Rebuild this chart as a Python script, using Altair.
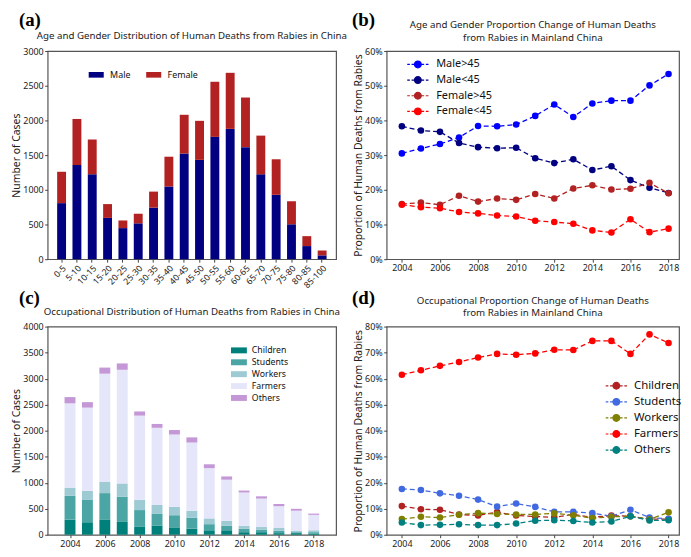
import altair as alt
import pandas as pd

FONT = "Noto Sans"
SERIF = "Liberation Serif"

# ---------------- Panel (a) data ----------------
age_groups = ["0-5", "5-10", "10-15", "15-20", "20-25", "25-30", "30-35", "35-40", "40-45",
              "45-50", "50-55", "55-60", "60-65", "65-70", "70-75", "75-80", "80-85", "85-100"]
male_counts = [808, 1357, 1223, 595, 448, 517, 743, 1048, 1523, 1431, 1763, 1878, 1615, 1223, 928, 503, 189, 55]
female_counts = [452, 664, 503, 199, 110, 138, 231, 429, 558, 563, 794, 808, 715, 558, 512, 332, 143, 70]

# ---------------- Panel (b) data ----------------
years = list(range(2004, 2019))
male_over45 = [30.5, 31.9, 33.2, 35.1, 38.4, 38.3, 38.8, 41.3, 44.6, 41.0, 44.9, 45.7, 45.7, 50.1, 53.4]
male_under45 = [38.3, 37.1, 36.7, 33.5, 32.3, 32.0, 32.1, 29.1, 27.7, 28.8, 25.7, 26.8, 22.8, 20.6, 19.1]
female_over45 = [15.9, 16.3, 15.7, 18.3, 16.6, 17.5, 17.1, 18.8, 17.5, 20.4, 21.3, 20.1, 20.3, 22.0, 19.0]
female_under45 = [15.7, 15.0, 14.7, 13.6, 13.2, 12.6, 12.3, 11.1, 10.7, 10.2, 8.3, 7.7, 11.5, 7.8, 8.8]

# ---------------- Panel (c) data ----------------
occ_children = [290, 240, 295, 246, 160, 178, 142, 117, 86, 86, 49, 49, 31, 31, 25]
occ_students = [460, 437, 505, 486, 314, 222, 233, 209, 117, 86, 68, 49, 49, 18, 24]
occ_workers = [155, 166, 215, 253, 197, 172, 160, 136, 111, 93, 55, 50, 49, 31, 37]
occ_farmers = [1620, 1600, 2080, 2185, 1618, 1483, 1391, 1310, 966, 793, 640, 547, 419, 382, 296]
occ_others = [120, 105, 117, 122, 80, 74, 86, 99, 74, 62, 37, 43, 43, 36, 24]

# ---------------- Panel (d) data ----------------
prop_children = [11.0, 9.8, 9.6, 7.8, 7.4, 8.7, 7.4, 7.0, 6.7, 7.8, 6.7, 7.4, 7.1, 6.0, 6.0]
prop_students = [17.6, 17.2, 15.9, 15.0, 13.5, 10.8, 12.0, 10.7, 8.8, 8.8, 8.3, 7.1, 9.6, 6.6, 6.1]
prop_workers = [6.0, 6.9, 6.6, 7.7, 8.3, 8.0, 7.8, 7.8, 8.2, 7.5, 6.4, 6.9, 7.1, 5.9, 8.6]
prop_farmers = [61.5, 63.2, 64.9, 66.4, 68.1, 69.5, 69.2, 69.7, 71.1, 71.0, 74.5, 74.5, 69.5, 77.0, 73.7]
prop_others = [4.7, 3.7, 3.8, 4.0, 3.7, 3.7, 4.3, 5.4, 5.6, 5.3, 4.7, 5.1, 7.1, 5.5, 5.6]

# ---------------- titles ----------------
title_a = "Age and Gender Distribution of Human Deaths from Rabies in China"
title_b = "Age and Gender Proportion Change of Human Deaths\nfrom Rabies in Mainland China"
title_c = "Occupational Distribution of Human Deaths from Rabies in China"
title_d = "Occupational Proportion Change of Human Deaths\nfrom Rabies in Mainland China"
ytitle_count = "Number of Cases"
ytitle_prop = "Proportion of Human Deaths from Rabies"

# ---------------- tables ----------------
rows = []
for i, g in enumerate(age_groups):
    rows.append({"Age": g, "Sex": "Male", "Cases": male_counts[i], "k": 0})
    rows.append({"Age": g, "Sex": "Female", "Cases": female_counts[i], "k": 1})
df_a = pd.DataFrame(rows)

b_names = ["Male>45", "Male<45", "Female>45", "Female<45"]
b_series = [male_over45, male_under45, female_over45, female_under45]
b_colors = ["#0000FF", "#000080", "#B22222", "#FF0000"]
df_b = pd.DataFrame([{"Year": y, "Group": n, "Pct": s[i]}
                     for n, s in zip(b_names, b_series) for i, y in enumerate(years)])

occ_names = ["Children", "Students", "Workers", "Farmers", "Others"]
c_series = [occ_children, occ_students, occ_workers, occ_farmers, occ_others]
c_colors = ["#00807a", "#4ba5a5", "#9ecad4", "#e6e6fa", "#c497d6"]
df_c = pd.DataFrame([{"Year": y, "Occupation": n, "Cases": s[i], "k": k}
                     for k, (n, s) in enumerate(zip(occ_names, c_series)) for i, y in enumerate(years)])

d_series = [prop_children, prop_students, prop_workers, prop_farmers, prop_others]
d_colors = ["#B22222", "#4169E1", "#808000", "#FF0000", "#008080"]
df_d = pd.DataFrame([{"Year": y, "Occ": n, "Pct": s[i]}
                     for n, s in zip(occ_names, d_series) for i, y in enumerate(years)])

W1, W2, H = 291, 295, 210
TITLE_SIZE = 9.8

rect_path = "M-1.6,-0.6L1.6,-0.6L1.6,0.6L-1.6,0.6Z"
line_pt_path = ("M-2.2,0L-1.65,0M-1.3,0L-0.75,0M0.75,0L1.3,0M1.65,0L2.2,0"
                "M-0.7,0A0.7,0.7 0 1,1 0.7,0A0.7,0.7 0 1,1 -0.7,0Z")


def panel_label(txt, dx, dy):
    return alt.Chart(pd.DataFrame({"t": [txt]})).mark_text(
        font=SERIF, fontSize=19, fontWeight="bold", align="left", baseline="alphabetic",
        color="#000"
    ).encode(text="t:N", x=alt.value(dx), y=alt.value(dy))


def panel_title(txt, w, dy):
    return alt.Chart(pd.DataFrame({"t": [txt]})).mark_text(
        font=FONT, fontSize=TITLE_SIZE, align="center", baseline="alphabetic",
        color="#222", lineBreak="\n", lineHeight=12.5
    ).encode(text="t:N", x=alt.value(w / 2), y=alt.value(dy))


# ---------------- Panel (a) ----------------
bars_a = alt.Chart(df_a).mark_bar().encode(
    x=alt.X("Age:N", sort=age_groups,
            scale=alt.Scale(paddingInner=0.42, paddingOuter=0.62),
            axis=alt.Axis(title=None, labelAngle=-45, labelFontSize=8.8)),
    y=alt.Y("Cases:Q", stack="zero", scale=alt.Scale(domain=[0, 3000], nice=False),
            axis=alt.Axis(title=ytitle_count, values=list(range(0, 3001, 500)), format="d")),
    color=alt.Color("Sex:N", scale=alt.Scale(domain=["Male", "Female"], range=["#000080", "#B22222"]),
                    legend=alt.Legend(title=None, orient="none", legendX=44, legendY=19,
                                      direction="horizontal", symbolType=rect_path, symbolSize=90,
                                      labelFontSize=9, columnPadding=15, labelOffset=9,
                                      symbolStrokeWidth=0)),
    order=alt.Order("k:Q", sort="ascending"),
)
chart_a = alt.layer(bars_a, panel_label("(a)", -29, -25), panel_title(title_a, W1, -12)).properties(
    width=W1, height=H)

# ---------------- Panel (b) ----------------
leg_b = alt.Legend(title=None, orient="none", legendX=26, legendY=8, symbolType=line_pt_path,
                   symbolSize=95, symbolStrokeWidth=1.2, labelFontSize=11, rowPadding=2.8,
                   labelOffset=13)
enc_b = dict(
    x=alt.X("Year:Q", scale=alt.Scale(domain=[2003.2, 2018.55], nice=False, zero=False),
            axis=alt.Axis(title=None, values=list(range(2004, 2019, 2)), format="d")),
    y=alt.Y("Pct:Q", scale=alt.Scale(domain=[0, 60], nice=False),
            axis=alt.Axis(title=ytitle_prop, values=list(range(0, 61, 10)),
                          labelExpr="datum.value + '%'")),
    color=alt.Color("Group:N", scale=alt.Scale(domain=b_names, range=b_colors), legend=leg_b),
)
lines_b = alt.Chart(df_b).mark_line(strokeDash=[5, 3], strokeWidth=1.3).encode(**enc_b)
pts_b = alt.Chart(df_b).mark_point(filled=True, size=44, opacity=1).encode(**enc_b)
chart_b = alt.layer(lines_b, pts_b, panel_label("(b)", -35, -25), panel_title(title_b, W2, -23)).properties(
    width=W2, height=H)

# ---------------- Panel (c) ----------------
bars_c = alt.Chart(df_c).mark_bar(size=11).encode(
    x=alt.X("Year:Q", scale=alt.Scale(domain=[2003, 2019], nice=False, zero=False),
            axis=alt.Axis(title=None, values=list(range(2004, 2019, 2)), format="d")),
    y=alt.Y("Cases:Q", stack="zero", scale=alt.Scale(domain=[0, 4000], nice=False),
            axis=alt.Axis(title=ytitle_count, values=list(range(0, 4001, 500)), format="d")),
    color=alt.Color("Occupation:N", scale=alt.Scale(domain=occ_names, range=c_colors),
                    legend=alt.Legend(title=None, orient="none", legendX=188, legendY=19,
                                      symbolType=rect_path, symbolSize=100, labelFontSize=8.8,
                                      rowPadding=2, labelOffset=8, symbolStrokeWidth=0)),
    order=alt.Order("k:Q", sort="ascending"),
)
chart_c = alt.layer(bars_c, panel_label("(c)", -29, -23), panel_title(title_c, W1, -12)).properties(
    width=W1, height=H)

# ---------------- Panel (d) ----------------
leg_d = alt.Legend(title=None, orient="none", legendX=226, legendY=54, symbolType=line_pt_path,
                   symbolSize=95, symbolStrokeWidth=1.2, labelFontSize=11.5, rowPadding=3.2,
                   labelOffset=12)
enc_d = dict(
    x=alt.X("Year:Q", scale=alt.Scale(domain=[2003.2, 2018.55], nice=False, zero=False),
            axis=alt.Axis(title=None, values=list(range(2004, 2019, 2)), format="d")),
    y=alt.Y("Pct:Q", scale=alt.Scale(domain=[0, 80], nice=False),
            axis=alt.Axis(title=ytitle_prop, values=list(range(0, 81, 10)),
                          labelExpr="datum.value + '%'")),
    color=alt.Color("Occ:N", scale=alt.Scale(domain=occ_names, range=d_colors), legend=leg_d),
)
lines_d = alt.Chart(df_d).mark_line(strokeDash=[5, 3], strokeWidth=1.3).encode(**enc_d)
pts_d = alt.Chart(df_d).mark_point(filled=True, size=44, opacity=1).encode(**enc_d)
chart_d = alt.layer(lines_d, pts_d, panel_label("(d)", -35, -23), panel_title(title_d, W2, -23)).properties(
    width=W2, height=H)

chart = alt.concat(
    chart_a, chart_b, chart_c, chart_d, columns=2,
    spacing={"row": 68, "column": 51}, bounds="flush"
).resolve_scale(
    color="independent"
).resolve_legend(color="independent").properties(
    padding={"left": 3, "top": 0, "right": 0, "bottom": 0}
).configure_view(
    stroke="#555", strokeWidth=1.2
).configure_axis(
    domain=False, tickColor="#444", tickSize=3, labelColor="#222", titleColor="#222",
    labelFont=FONT, titleFont=FONT, labelFontSize=9, titleFontSize=10.5, titleFontWeight="normal",
    labelPadding=1.5, titlePadding=1, grid=False
).configure_legend(
    labelFont=FONT, labelColor="#111"
)

chart.save("out.html", embed_options={"renderer": "svg", "actions": False})
